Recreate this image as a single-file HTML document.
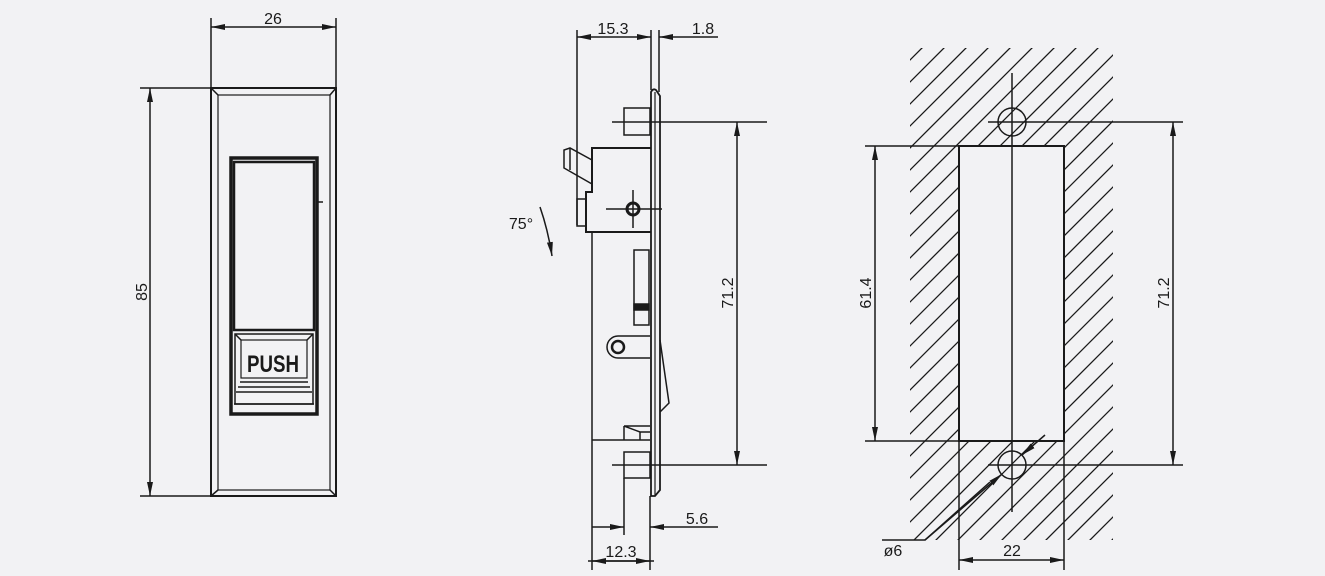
<!DOCTYPE html>
<html><head><meta charset="utf-8"><style>
html,body{margin:0;padding:0;background:#f2f2f4;overflow:hidden;}
svg{display:block}
text{font-family:"Liberation Sans",sans-serif;fill:#1a1a1a;font-size:16px}
</style></head><body>
<svg width="1325" height="576" viewBox="0 0 1325 576" xmlns="http://www.w3.org/2000/svg">
<defs>
<marker id="a" viewBox="0 0 14 6" refX="14" refY="3" markerWidth="14" markerHeight="6" markerUnits="userSpaceOnUse" orient="auto-start-reverse"><path d="M0,0 L14,3 L0,6 z" fill="#1a1a1a"/></marker>
<clipPath id="hc"><path d="M910,48 H1113 V540 H910 Z M959,146 V441 H1064 V146 Z" clip-rule="evenodd"/></clipPath>
</defs>
<g stroke="#1a1a1a" fill="none" stroke-width="1.5">
<!-- View 1 -->
<line x1="211" y1="18" x2="211" y2="88"/><line x1="336" y1="18" x2="336" y2="88"/>
<line x1="211" y1="27" x2="336" y2="27" marker-start="url(#a)" marker-end="url(#a)"/>
<line x1="140" y1="88" x2="211" y2="88"/><line x1="140" y1="496" x2="211" y2="496"/>
<line x1="150" y1="88" x2="150" y2="496" marker-start="url(#a)" marker-end="url(#a)"/>
<rect x="211" y="88" width="125" height="408" stroke-width="2"/>
<rect x="218" y="95" width="112" height="395" stroke-width="1.2"/>
<line x1="211" y1="88" x2="218" y2="95"/><line x1="336" y1="88" x2="330" y2="95"/>
<line x1="211" y1="496" x2="218" y2="490"/><line x1="336" y1="496" x2="330" y2="490"/>
<rect x="231" y="158" width="86" height="256" stroke-width="3.5"/>
<rect x="234" y="162" width="80" height="168" stroke-width="2.5"/>
<line x1="318" y1="202" x2="323" y2="202"/>
<rect x="235" y="334" width="78" height="70" stroke-width="1.5"/>
<rect x="241" y="340" width="66" height="38" stroke-width="1.2"/>
<line x1="235" y1="334" x2="241" y2="340"/><line x1="313" y1="334" x2="307" y2="340"/>
<line x1="240" y1="382" x2="308" y2="382"/><line x1="238" y1="387" x2="310" y2="387"/><line x1="236" y1="392" x2="312" y2="392"/>
<line x1="234" y1="404" x2="314" y2="404"/>
<!-- View 2 -->
<line x1="577" y1="30" x2="577" y2="225"/><line x1="651" y1="30" x2="651" y2="90"/><line x1="659" y1="30" x2="659" y2="92"/>
<line x1="577" y1="37" x2="651" y2="37" marker-start="url(#a)" marker-end="url(#a)"/>
<line x1="718" y1="37" x2="659" y2="37" marker-end="url(#a)"/>
<path d="M651,92 Q653,88 656,90 L660,96 L660,490 L655,496 L651,496 Z" stroke-width="1.8"/>
<line x1="655" y1="92" x2="655" y2="496" stroke-width="1.2"/>
<rect x="624" y="108" width="26" height="27"/>
<rect x="624" y="452" width="26" height="26"/>
<line x1="612" y1="122" x2="767" y2="122"/><line x1="612" y1="465" x2="767" y2="465"/>
<line x1="737" y1="122" x2="737" y2="465" marker-start="url(#a)" marker-end="url(#a)"/>
<path d="M651,148 L592,148 L592,192 L586,192 L586,232 L651,232" stroke-width="2"/>
<rect x="577" y="199" width="9" height="27"/>
<path d="M592,160 L570,148 L564,150 L564,168 L592,184"/><line x1="570" y1="148" x2="570" y2="170"/>
<circle cx="633" cy="209" r="6" stroke-width="3"/>
<line x1="606" y1="209" x2="662" y2="209"/><line x1="633" y1="190" x2="633" y2="228"/>
<line x1="592" y1="232" x2="592" y2="570"/><line x1="592" y1="440" x2="650" y2="440"/>
<rect x="634" y="250" width="15" height="75"/><rect x="634" y="304" width="15" height="6" fill="#1a1a1a"/>
<path d="M650,336 L618,336 A11,11 0 0 0 618,358 L650,358"/>
<circle cx="618" cy="347" r="6" stroke-width="2.5"/>
<path d="M660,340 L669,403 L660,412"/>
<path d="M624,426 L650,426 M624,426 L624,440 M624,426 L640,432 L650,432 M640,432 L640,440"/>
<line x1="624" y1="478" x2="624" y2="535"/><line x1="650" y1="496" x2="650" y2="570"/>
<line x1="592" y1="527" x2="624" y2="527" marker-end="url(#a)"/>
<line x1="718" y1="527" x2="650" y2="527" marker-end="url(#a)"/>
<line x1="588" y1="561" x2="654" y2="561"/>
<line x1="592" y1="561" x2="650" y2="561" marker-start="url(#a)" marker-end="url(#a)"/>
<path d="M540,207 Q548,230 552,256" marker-end="url(#a)"/>
<!-- View 3 -->
<g clip-path="url(#hc)" stroke-width="1.3">
<path d="
M880,90 L1160,-190 M880,112 L1160,-168 M880,134 L1160,-146 M880,156 L1160,-124 M880,178 L1160,-102 M880,200 L1160,-80 M880,222 L1160,-58 M880,244 L1160,-36 M880,266 L1160,-14 M880,288 L1160,8 M880,310 L1160,30 M880,332 L1160,52 M880,354 L1160,74 M880,376 L1160,96 M880,398 L1160,118 M880,420 L1160,140 M880,442 L1160,162 M880,464 L1160,184 M880,486 L1160,206 M880,508 L1160,228 M880,530 L1160,250 M880,552 L1160,272 M880,574 L1160,294 M880,596 L1160,316 M880,618 L1160,338 M880,640 L1160,360 M880,662 L1160,382 M880,684 L1160,404 M880,706 L1160,426 M880,728 L1160,448 M880,750 L1160,470 M880,772 L1160,492 M880,794 L1160,514 M880,816 L1160,536 M880,838 L1160,558"/>
</g>
<rect x="959" y="146" width="105" height="295" stroke-width="2"/>
<line x1="959" y1="441" x2="959" y2="570"/><line x1="1064" y1="441" x2="1064" y2="570"/>
<circle cx="1012" cy="122" r="14"/><circle cx="1012" cy="465" r="14"/>
<line x1="1012" y1="73" x2="1012" y2="512"/>
<line x1="988" y1="122" x2="1183" y2="122"/><line x1="988" y1="465" x2="1183" y2="465"/>
<line x1="1173" y1="122" x2="1173" y2="465" marker-start="url(#a)" marker-end="url(#a)"/>
<line x1="865" y1="146" x2="959" y2="146"/><line x1="865" y1="441" x2="959" y2="441"/>
<line x1="875" y1="146" x2="875" y2="441" marker-start="url(#a)" marker-end="url(#a)"/>
<line x1="959" y1="560" x2="1064" y2="560" marker-start="url(#a)" marker-end="url(#a)"/>
<line x1="1045" y1="435" x2="1022" y2="455" marker-end="url(#a)"/>
<path d="M990,482 L925,540 L882,540"/>
<line x1="925" y1="540" x2="1002" y2="474" marker-end="url(#a)"/>
</g>
<text x="273" y="24" text-anchor="middle">26</text>
<text transform="translate(147,292) rotate(-90)" text-anchor="middle">85</text>
<text x="273" y="372" text-anchor="middle" style="font-weight:bold;font-size:24px" textLength="52" lengthAdjust="spacingAndGlyphs">PUSH</text>
<text x="613" y="34" text-anchor="middle">15.3</text>
<text x="703" y="34" text-anchor="middle">1.8</text>
<text transform="translate(733,293) rotate(-90)" text-anchor="middle">71.2</text>
<text x="521" y="229" text-anchor="middle">75°</text>
<text x="697" y="524" text-anchor="middle">5.6</text>
<text x="621" y="557" text-anchor="middle">12.3</text>
<text transform="translate(871,293) rotate(-90)" text-anchor="middle">61.4</text>
<text transform="translate(1169,293) rotate(-90)" text-anchor="middle">71.2</text>
<text x="1012" y="556" text-anchor="middle">22</text>
<text x="893" y="556" text-anchor="middle">ø6</text>
</svg>
</body></html>
